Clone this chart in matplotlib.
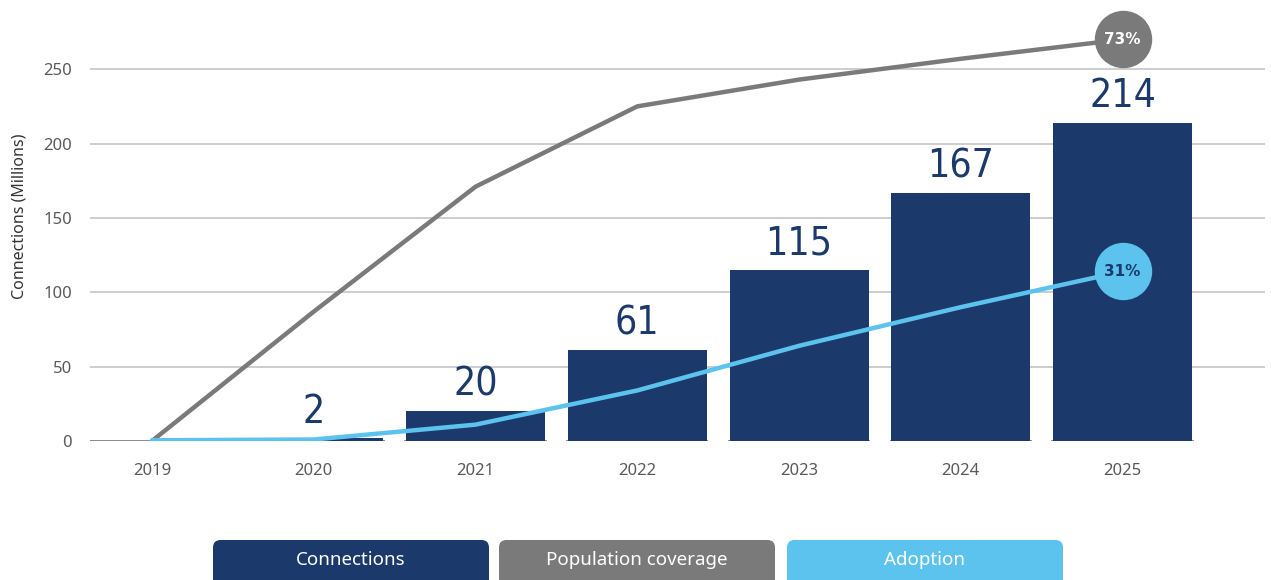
import matplotlib.pyplot as plt
from matplotlib.patches import FancyBboxPatch

years = ['2019', '2020', '2021', '2022', '2023', '2024', '2025']
connections = [0, 2, 20, 61, 115, 167, 214]
coverage_line = [0, 87, 171, 225, 243, 257, 270]
adoption_line = [0.5, 1, 11, 34, 64, 90, 114]
coverage_end_label = '73%'
adoption_end_label = '31%'
legend_labels = ['Connections', 'Population coverage', 'Adoption']

navy = '#1b3a6b'
grey = '#7a7a7a'
sky = '#5bc3ee'

plt.rcParams['font.family'] = ['Noto Sans', 'DejaVu Sans']

fig = plt.figure(figsize=(12.71, 5.80), dpi=100)
ax = fig.add_axes([90 / 1271, 139 / 580, 1175 / 1271, 409 / 580])

x = list(range(len(years)))
bar_w = 0.86

for yv in [50, 100, 150, 200, 250]:
    ax.axhline(yv, color='#c9c9c9', lw=1.3, zorder=0)

ax.bar(x, connections, width=bar_w, color=navy, zorder=2)
# thin base line under each bar
for xi in x:
    ax.plot([xi - bar_w / 2 - 0.01, xi + bar_w / 2 + 0.01], [0, 0],
            color='#777777', lw=1.2, zorder=1, solid_capstyle='butt')

for xi, v in zip(x, connections):
    if v > 0:
        ax.text(xi, v + 5, str(v), ha='center', va='bottom', fontsize=28,
                color=navy, family='DejaVu Sans', fontstretch='condensed',
                fontweight='light', zorder=4)

ax.plot(x, coverage_line, color=grey, lw=3.2, zorder=3, solid_capstyle='round')
ax.plot(x, adoption_line, color=sky, lw=3.2, zorder=3, solid_capstyle='round')

# end-point bubbles
r_px = 28
for yv, col, lab, tcol in [(coverage_line[-1], grey, coverage_end_label, 'white'),
                           (adoption_line[-1], sky, adoption_end_label, navy)]:
    ax.plot(x[-1], yv, 'o', ms=2 * r_px * 0.72, color=col, zorder=5, clip_on=False)
    ax.text(x[-1], yv, lab, ha='center', va='center', fontsize=11,
            fontweight='bold', family='DejaVu Sans', color=tcol, zorder=6)

ax.set_xlim(-0.383, 6.88)
ax.set_ylim(0, 275)
ax.set_yticks([0, 50, 100, 150, 200, 250])
ax.set_xticks(x)
ax.set_xticklabels(years)
ax.tick_params(axis='both', length=0, labelsize=12, labelcolor='#5a5a5a')
ax.tick_params(axis='y', pad=13)
ax.tick_params(axis='x', pad=16)
for s in ax.spines.values():
    s.set_visible(False)
ax.set_ylabel('Connections (Millions)', fontsize=11.5, color='#333333')
ax.yaxis.set_label_coords(-0.053, 0.55)

# legend boxes
box_cols = [navy, grey, sky]
box_x = [213, 499, 787]
box_w = 276
for bx, col, lab in zip(box_x, box_cols, legend_labels):
    p = FancyBboxPatch((bx / 1271, -0.02), box_w / 1271, 0.089,
                       boxstyle='round,pad=0,rounding_size=0.006',
                       transform=fig.transFigure, facecolor=col, edgecolor='none',
                       mutation_aspect=1271 / 580)
    fig.patches.append(p)
    fig.text((bx + box_w / 2) / 1271, 20 / 580, lab, ha='center', va='center',
             fontsize=13.5, color='white')

fig.savefig('out.png', dpi=100, facecolor='white')
